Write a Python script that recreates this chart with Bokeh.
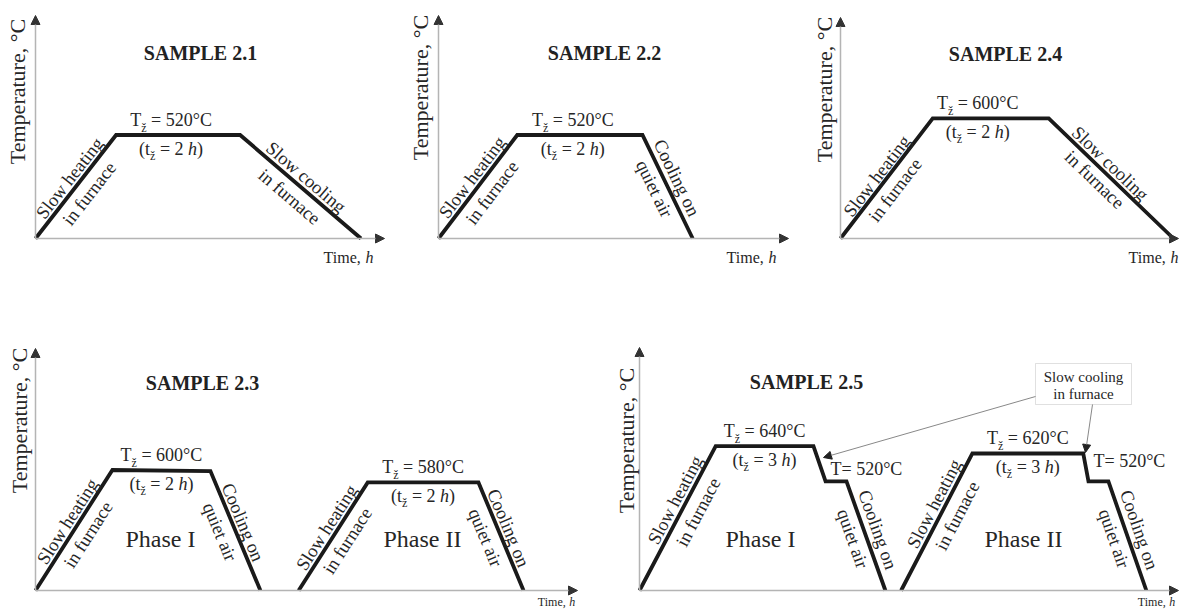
import math
from bokeh.plotting import figure
from bokeh.layouts import column, row
from bokeh.models import Label, Arrow, NormalHead, Range1d, BoxAnnotation
from bokeh.embed import file_html
from bokeh.resources import INLINE

# ---------------- data (schematic: time in h, temperature in °C) ----------------
T_AMB = 20

s21_time = [0.0, 1.3, 3.3, 5.25]
s21_temp = [20, 520, 520, 20]

s22_time = [0.0, 1.27, 3.29, 4.1]
s22_temp = [20, 520, 520, 20]

s24_time = [0.0, 1.59, 3.59, 5.74]
s24_temp = [20, 600, 600, 20]

s23_p1_time = [0.0, 1.57, 3.57, 4.59]
s23_p1_temp = [20, 600, 595, 20]
s23_p2_time = [5.37, 6.78, 9.04, 9.96]
s23_p2_temp = [20, 540, 540, 20]

s25_p1_time = [0.0, 2.33, 5.32, 5.69, 6.33, 7.52]
s25_p1_temp = [20, 640, 640, 488, 488, 20]
s25_p2_time = [8.0, 10.18, 13.57, 13.73, 14.34, 15.5]
s25_p2_temp = [20, 608, 608, 488, 488, 20]

soak_temp_labels = {"2.1": [520], "2.2": [520], "2.4": [600], "2.3": [600, 580], "2.5": [640, 620]}
soak_hours_labels = {"2.1": [2], "2.2": [2], "2.4": [2], "2.3": [2, 2], "2.5": [3, 3]}
step_temp_label = 520

# ---------------- styling ----------------
SERIF = "Liberation Serif"
INK = "#1a1a1a"
TXT = "#262626"
AXIS = "#b4b4b4"
HEAD = "#333333"

W = {'T': .611, '(': .333, ')': .333, 't': .278, 'ž': .444, ' ': .25, '=': .564, '°': .4,
     'C': .667, 'h': .5, ',': .25, 'i': .278, 'm': .778, 'e': .444}


def tw(s, sz):
    return sum(W.get(c, .5) for c in s) * sz


# layout constants (page px): fx = figure left, fb = figure bottom, x0/yb = origin,
# kx = px per hour, ky = px per °C
PANELS = {
    "2.1": dict(fx=0, fb=308, w=400, h=308, x0=35, yb=238, kx=62.0, ky=0.207),
    "2.2": dict(fx=400, fb=308, w=390, h=308, x0=438, yb=238, kx=62.0, ky=0.207),
    "2.4": dict(fx=790, fb=308, w=389, h=308, x0=840, yb=238, kx=58.0, ky=0.207),
    "2.3": dict(fx=0, fb=609, w=590, h=301, x0=35, yb=590, kx=49.0, ky=0.2078),
    "2.5": dict(fx=590, fb=609, w=589, h=301, x0=639, yb=590, kx=32.7, ky=0.233),
}


def sx(P, rx):
    return rx - P["fx"]


def sy(P, ry):
    return P["fb"] - ry


def make_fig(P):
    xs = -(P["x0"] - P["fx"]) / P["kx"]
    xe = xs + P["w"] / P["kx"]
    ys = T_AMB - (P["fb"] - P["yb"]) / P["ky"]
    ye = ys + P["h"] / P["ky"]
    p = figure(width=P["w"], height=P["h"], x_range=Range1d(xs, xe), y_range=Range1d(ys, ye),
               output_backend="svg", toolbar_location=None, min_border=0,
               x_axis_location=None, y_axis_location=None, outline_line_color=None)
    p.xgrid.visible = False
    p.ygrid.visible = False
    return p


def lab(p, P, rx, ry, text, size, align="center", angle=0.0, style="normal", color=TXT):
    p.add_layout(Label(x=sx(P, rx), y=sy(P, ry), x_units="screen", y_units="screen", text=text,
                       text_font=SERIF, text_font_size=f"{size}px", text_align=align,
                       text_baseline="middle", angle=angle, text_font_style=style,
                       text_color=color))


def rich(p, P, cx, cy, pieces, align="center"):
    total = sum(tw(s, sz) for s, sz, st, dy in pieces)
    if align == "center":
        x = cx - total / 2
    elif align == "right":
        x = cx - total
    else:
        x = cx
    for s, sz, st, dy in pieces:
        lead = len(s) - len(s.lstrip(' '))
        lab(p, P, x + lead * W[' '] * sz, cy + dy, s.strip(), sz, align="left", style=st)
        x += tw(s, sz)


def axes(p, P, ytip, xtip):
    ox, oy = P["x0"] - P["fx"], P["fb"] - P["yb"]
    for xe_, ye_ in [(ox, sy(P, ytip)), (sx(P, xtip), oy)]:
        p.add_layout(Arrow(x_start=ox, y_start=oy, x_end=xe_, y_end=ye_,
                           start_units="screen", end_units="screen",
                           line_color=AXIS, line_width=1.5,
                           end=NormalHead(size=9, fill_color=HEAD, line_color=HEAD, line_width=1)))


def seg_screen(P, t, T, i):
    ox, oy = P["x0"] - P["fx"], P["fb"] - P["yb"]
    return (ox + t[i] * P["kx"], oy + (T[i] - T_AMB) * P["ky"])


def slope_labels(p, P, t, T, i, l1, l2, p1=10, p2=15, along=0.0, size=18.5):
    x1, y1 = seg_screen(P, t, T, i)
    x2, y2 = seg_screen(P, t, T, i + 1)
    ang = math.atan2(y2 - y1, x2 - x1)
    ux, uy = math.cos(ang), math.sin(ang)
    nx, ny = -uy, ux
    mx, my = (x1 + x2) / 2 + along * ux, (y1 + y2) / 2 + along * uy
    for txt, off in [(l1, p1), (l2, -p2)]:
        p.add_layout(Label(x=mx + off * nx, y=my + off * ny, x_units="screen", y_units="screen",
                           text=txt, text_font=SERIF, text_font_size=f"{size}px",
                           text_align="center", text_baseline="middle", angle=ang,
                           text_color=TXT))


def soak_labels(p, P, t, T, i, temp, hours, dx=0.0):
    # plateau between point i and i+1
    cx = P["x0"] + (t[i] + t[i + 1]) / 2 * P["kx"] + dx
    ry = P["yb"] - (T[i] - T_AMB) * P["ky"]
    rich(p, P, cx, ry - 15, [("T", 18, "normal", 0), ("ž", 12, "normal", 8),
                              (f" = {temp}°C", 18, "normal", 0)])
    rich(p, P, cx, ry + 14, [("(t", 18, "normal", 0), ("ž", 12, "normal", 7),
                              (f" = {hours} ", 18, "normal", 0), ("h", 18, "italic", 0),
                              (")", 18, "normal", 0)])


def profile(p, t, T):
    p.line(t, T, line_width=3.8, line_color=INK, line_join="miter")


def common(p, P, key, title_xy, temp_xy, time_xy, time_size, time_align, ytip, xtip):
    axes(p, P, ytip, xtip)
    lab(p, P, title_xy[0], title_xy[1], f"SAMPLE {key}", 20, style="bold", color="#222222")
    lab(p, P, temp_xy[0], temp_xy[1], "Temperature, °C", 22, angle=math.pi / 2)
    rich(p, P, time_xy[0], time_xy[1], [("Time, ", time_size, "normal", 0),
                                        ("h", time_size, "italic", 0)], align=time_align)


# ---------------- SAMPLE 2.1 ----------------
P = PANELS["2.1"]
p21 = make_fig(P)
common(p21, P, "2.1", (200, 52), (17, 91), (348, 257), 16, "center", 15, 384)
profile(p21, s21_time, s21_temp)
soak_labels(p21, P, s21_time, s21_temp, 1, soak_temp_labels["2.1"][0], soak_hours_labels["2.1"][0], -7)
slope_labels(p21, P, s21_time, s21_temp, 0, "Slow heating", "in furnace", 10, 15, 3)
slope_labels(p21, P, s21_time, s21_temp, 2, "Slow cooling", "in furnace", 10.5, 15, -2)

# ---------------- SAMPLE 2.2 ----------------
P = PANELS["2.2"]
p22 = make_fig(P)
common(p22, P, "2.2", (604, 52), (420, 87), (751, 257), 16, "center", 15, 788)
profile(p22, s22_time, s22_temp)
soak_labels(p22, P, s22_time, s22_temp, 1, soak_temp_labels["2.2"][0], soak_hours_labels["2.2"][0], -7)
slope_labels(p22, P, s22_time, s22_temp, 0, "Slow heating", "in furnace", 10, 15, 4)
slope_labels(p22, P, s22_time, s22_temp, 2, "Cooling on", "quiet air", 12, 13, -4)

# ---------------- SAMPLE 2.4 ----------------
P = PANELS["2.4"]
p24 = make_fig(P)
common(p24, P, "2.4", (1005, 53), (824, 89), (1153, 257), 16, "center", 17, 1178)
profile(p24, s24_time, s24_temp)
soak_labels(p24, P, s24_time, s24_temp, 1, soak_temp_labels["2.4"][0], soak_hours_labels["2.4"][0], -13)
slope_labels(p24, P, s24_time, s24_temp, 0, "Slow heating", "in furnace", 9, 14, -4)
slope_labels(p24, P, s24_time, s24_temp, 2, "Slow cooling", "in furnace", 10, 12.5, -11)

# ---------------- SAMPLE 2.3 ----------------
P = PANELS["2.3"]
p23 = make_fig(P)
common(p23, P, "2.3", (202, 382), (19, 420), (556, 601), 12, "center", 348, 577)
for (t, T, k, name, pcx) in [(s23_p1_time, s23_p1_temp, 0, "Phase I", 160),
                             (s23_p2_time, s23_p2_temp, 1, "Phase II", 422)]:
    profile(p23, t, T)
    soak_labels(p23, P, t, T, 1, soak_temp_labels["2.3"][k], soak_hours_labels["2.3"][k], 0)
    slope_labels(p23, P, t, T, 0, "Slow heating", "in furnace", 10, 14.5, 4)
    slope_labels(p23, P, t, T, 2, "Cooling on", "quiet air", 10, 15, -5)
    lab(p23, P, pcx, 538, name, 24)

# ---------------- SAMPLE 2.5 ----------------
P = PANELS["2.5"]
p25 = make_fig(P)
common(p25, P, "2.5", (806, 381), (626, 440), (1156, 601), 12, "center", 347, 1178)
for (t, T, k, name, pcx, stx, sty) in [(s25_p1_time, s25_p1_temp, 0, "Phase I", 760, 830, 468),
                                       (s25_p2_time, s25_p2_temp, 1, "Phase II", 1023, 1093, 460)]:
    profile(p25, t, T)
    soak_labels(p25, P, t, T, 1, soak_temp_labels["2.5"][k], soak_hours_labels["2.5"][k], 0)
    slope_labels(p25, P, t, T, 0, "Slow heating", "in furnace", 10.5, 15.5, 15)
    slope_labels(p25, P, t, T, 4, "Cooling on", "quiet air", 13, 13.5, -2)
    lab(p25, P, pcx, 538, name, 24)
    lab(p25, P, stx, sty, f"T= {step_temp_label}°C", 18, align="left")

# callout box "Slow cooling in furnace"
p25.add_layout(BoxAnnotation(left=sx(P, 1035), right=sx(P, 1131), top=sy(P, 363), bottom=sy(P, 404),
                             left_units="screen", right_units="screen", top_units="screen",
                             bottom_units="screen", fill_alpha=0, line_color="#999999",
                             line_width=1))
lab(p25, P, 1083, 376, "Slow cooling", 15)
lab(p25, P, 1083, 393, "in furnace", 15)
for (x1, y1, x2, y2) in [(1035, 396, 823, 457), (1092, 404, 1085, 452)]:
    p25.add_layout(Arrow(x_start=sx(P, x1), y_start=sy(P, y1), x_end=sx(P, x2), y_end=sy(P, y2),
                         start_units="screen", end_units="screen", line_color="#888888",
                         line_width=1,
                         end=NormalHead(size=8, fill_color="#222222", line_color="#222222",
                                        line_width=1)))

layout = column(row(p21, p22, p24), row(p23, p25))
open("out.html", "w").write(file_html(layout, INLINE))
